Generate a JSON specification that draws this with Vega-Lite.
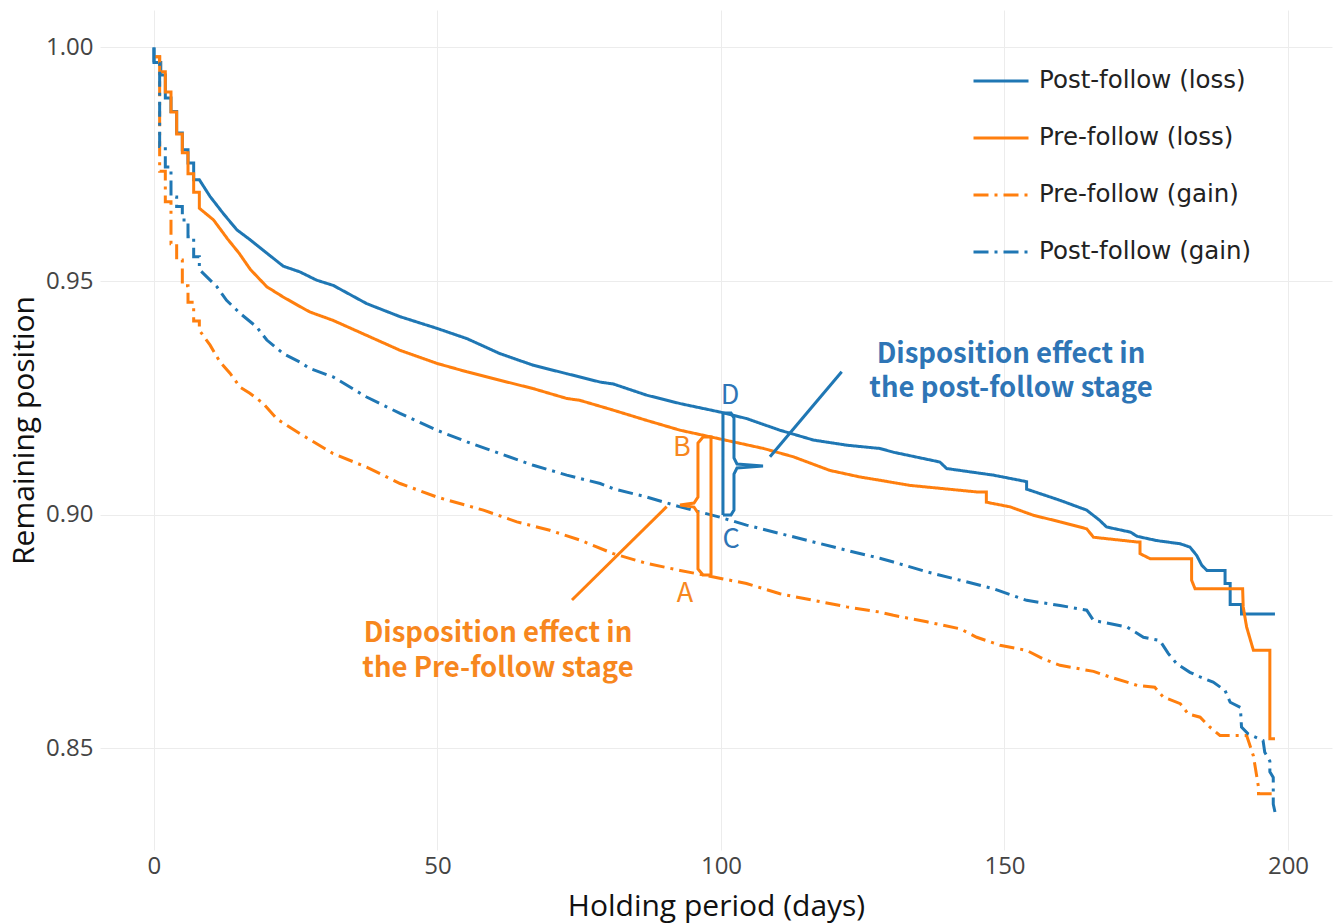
{
  "$schema": "https://vega.github.io/schema/vega-lite/v6.json",
  "width": 1232,
  "height": 840,
  "autosize": {"type": "none"},
  "padding": {"left": 100, "top": 10, "right": 3, "bottom": 74},
  "background": "white",
  "config": {
    "view": {"stroke": null},
    "axis": {
      "grid": true, "gridColor": "#ececec", "gridWidth": 1,
      "domain": false, "ticks": false,
      "labelFont": "Open Sans", "labelFontSize": 24, "labelColor": "#444444",
      "titleFont": "Open Sans", "titleFontSize": 30, "titleFontWeight": "normal", "titleColor": "#111111"
    },
    "legend": {
      "orient": "none", "legendX": 872, "legendY": 42,
      "padding": 0, "rowPadding": 16, "symbolType": "stroke", "symbolSize": 3025,
      "symbolStrokeWidth": 3, "labelFont": "DejaVu Sans", "labelFontSize": 24.5,
      "labelColor": "#222222", "labelOffset": 9, "labelLimit": 400
    }
  },
  "datasets": {
    "curves": [
      {"series":"Post-follow (loss)","day":0,"value":1.0},
      {"series":"Post-follow (loss)","day":0,"value":0.9968},
      {"series":"Post-follow (loss)","day":1.2,"value":0.9968},
      {"series":"Post-follow (loss)","day":1.2,"value":0.9941},
      {"series":"Post-follow (loss)","day":2,"value":0.9941},
      {"series":"Post-follow (loss)","day":2,"value":0.9892},
      {"series":"Post-follow (loss)","day":3,"value":0.9892},
      {"series":"Post-follow (loss)","day":3,"value":0.9863},
      {"series":"Post-follow (loss)","day":4,"value":0.9863},
      {"series":"Post-follow (loss)","day":4,"value":0.9817},
      {"series":"Post-follow (loss)","day":5,"value":0.9817},
      {"series":"Post-follow (loss)","day":5,"value":0.9781},
      {"series":"Post-follow (loss)","day":6,"value":0.9781},
      {"series":"Post-follow (loss)","day":6,"value":0.9753},
      {"series":"Post-follow (loss)","day":7,"value":0.9753},
      {"series":"Post-follow (loss)","day":7,"value":0.9717},
      {"series":"Post-follow (loss)","day":8,"value":0.9717},
      {"series":"Post-follow (loss)","day":9.9,"value":0.9681},
      {"series":"Post-follow (loss)","day":12.2,"value":0.9645},
      {"series":"Post-follow (loss)","day":14.6,"value":0.961},
      {"series":"Post-follow (loss)","day":16.9,"value":0.9589},
      {"series":"Post-follow (loss)","day":19.9,"value":0.956},
      {"series":"Post-follow (loss)","day":22.8,"value":0.9532},
      {"series":"Post-follow (loss)","day":25.7,"value":0.952},
      {"series":"Post-follow (loss)","day":28.7,"value":0.9502},
      {"series":"Post-follow (loss)","day":31.6,"value":0.9491},
      {"series":"Post-follow (loss)","day":37.5,"value":0.9452},
      {"series":"Post-follow (loss)","day":43.4,"value":0.9424},
      {"series":"Post-follow (loss)","day":49.9,"value":0.9399},
      {"series":"Post-follow (loss)","day":55.2,"value":0.9377},
      {"series":"Post-follow (loss)","day":61,"value":0.9345},
      {"series":"Post-follow (loss)","day":66.9,"value":0.932},
      {"series":"Post-follow (loss)","day":72.8,"value":0.9302},
      {"series":"Post-follow (loss)","day":78.7,"value":0.9284},
      {"series":"Post-follow (loss)","day":81,"value":0.928},
      {"series":"Post-follow (loss)","day":86.9,"value":0.9256},
      {"series":"Post-follow (loss)","day":92.8,"value":0.9238},
      {"series":"Post-follow (loss)","day":99.8,"value":0.922},
      {"series":"Post-follow (loss)","day":104.5,"value":0.9206},
      {"series":"Post-follow (loss)","day":110.4,"value":0.9181},
      {"series":"Post-follow (loss)","day":116.3,"value":0.916},
      {"series":"Post-follow (loss)","day":122.2,"value":0.9149},
      {"series":"Post-follow (loss)","day":128,"value":0.9142},
      {"series":"Post-follow (loss)","day":130.4,"value":0.9134},
      {"series":"Post-follow (loss)","day":138.6,"value":0.9113},
      {"series":"Post-follow (loss)","day":139.8,"value":0.9099},
      {"series":"Post-follow (loss)","day":148,"value":0.9085},
      {"series":"Post-follow (loss)","day":153.9,"value":0.9071},
      {"series":"Post-follow (loss)","day":153.9,"value":0.9055},
      {"series":"Post-follow (loss)","day":159.8,"value":0.9031},
      {"series":"Post-follow (loss)","day":164.5,"value":0.901},
      {"series":"Post-follow (loss)","day":166.8,"value":0.8988},
      {"series":"Post-follow (loss)","day":168,"value":0.8974},
      {"series":"Post-follow (loss)","day":172.2,"value":0.8963},
      {"series":"Post-follow (loss)","day":173.4,"value":0.8954},
      {"series":"Post-follow (loss)","day":176.8,"value":0.8945},
      {"series":"Post-follow (loss)","day":181,"value":0.8938},
      {"series":"Post-follow (loss)","day":182.7,"value":0.8931},
      {"series":"Post-follow (loss)","day":183.9,"value":0.8913},
      {"series":"Post-follow (loss)","day":184.8,"value":0.8892},
      {"series":"Post-follow (loss)","day":185.7,"value":0.8881},
      {"series":"Post-follow (loss)","day":188.9,"value":0.8881},
      {"series":"Post-follow (loss)","day":188.9,"value":0.8853},
      {"series":"Post-follow (loss)","day":189.8,"value":0.8853},
      {"series":"Post-follow (loss)","day":189.8,"value":0.8808},
      {"series":"Post-follow (loss)","day":191.8,"value":0.8808},
      {"series":"Post-follow (loss)","day":191.8,"value":0.8788},
      {"series":"Post-follow (loss)","day":197.7,"value":0.8788},

      {"series":"Pre-follow (loss)","day":0,"value":0.998},
      {"series":"Pre-follow (loss)","day":1,"value":0.998},
      {"series":"Pre-follow (loss)","day":1,"value":0.9948},
      {"series":"Pre-follow (loss)","day":2,"value":0.9948},
      {"series":"Pre-follow (loss)","day":2,"value":0.9905},
      {"series":"Pre-follow (loss)","day":3,"value":0.9905},
      {"series":"Pre-follow (loss)","day":3,"value":0.9862},
      {"series":"Pre-follow (loss)","day":4,"value":0.9862},
      {"series":"Pre-follow (loss)","day":4,"value":0.9815},
      {"series":"Pre-follow (loss)","day":5,"value":0.9815},
      {"series":"Pre-follow (loss)","day":5,"value":0.9775},
      {"series":"Pre-follow (loss)","day":6,"value":0.9775},
      {"series":"Pre-follow (loss)","day":6,"value":0.973},
      {"series":"Pre-follow (loss)","day":7,"value":0.973},
      {"series":"Pre-follow (loss)","day":7,"value":0.969},
      {"series":"Pre-follow (loss)","day":8,"value":0.969},
      {"series":"Pre-follow (loss)","day":8,"value":0.9656},
      {"series":"Pre-follow (loss)","day":10.5,"value":0.9631},
      {"series":"Pre-follow (loss)","day":13,"value":0.959},
      {"series":"Pre-follow (loss)","day":15,"value":0.956},
      {"series":"Pre-follow (loss)","day":17,"value":0.9525},
      {"series":"Pre-follow (loss)","day":19.9,"value":0.9488},
      {"series":"Pre-follow (loss)","day":22.8,"value":0.9466},
      {"series":"Pre-follow (loss)","day":25.7,"value":0.9446},
      {"series":"Pre-follow (loss)","day":27.5,"value":0.9434},
      {"series":"Pre-follow (loss)","day":31.6,"value":0.9416},
      {"series":"Pre-follow (loss)","day":37.5,"value":0.9384},
      {"series":"Pre-follow (loss)","day":43.4,"value":0.9352},
      {"series":"Pre-follow (loss)","day":49.9,"value":0.9324},
      {"series":"Pre-follow (loss)","day":55.2,"value":0.9306},
      {"series":"Pre-follow (loss)","day":61,"value":0.9288},
      {"series":"Pre-follow (loss)","day":66.9,"value":0.927},
      {"series":"Pre-follow (loss)","day":72.8,"value":0.9249},
      {"series":"Pre-follow (loss)","day":75.1,"value":0.9245},
      {"series":"Pre-follow (loss)","day":81,"value":0.9224},
      {"series":"Pre-follow (loss)","day":86.9,"value":0.9202},
      {"series":"Pre-follow (loss)","day":92.8,"value":0.9181},
      {"series":"Pre-follow (loss)","day":98.1,"value":0.9167},
      {"series":"Pre-follow (loss)","day":102.2,"value":0.9156},
      {"series":"Pre-follow (loss)","day":107.5,"value":0.9142},
      {"series":"Pre-follow (loss)","day":112.8,"value":0.9124},
      {"series":"Pre-follow (loss)","day":119.2,"value":0.9095},
      {"series":"Pre-follow (loss)","day":124.5,"value":0.9081},
      {"series":"Pre-follow (loss)","day":128,"value":0.9074},
      {"series":"Pre-follow (loss)","day":133.3,"value":0.9063},
      {"series":"Pre-follow (loss)","day":145.1,"value":0.9049},
      {"series":"Pre-follow (loss)","day":146.8,"value":0.9049},
      {"series":"Pre-follow (loss)","day":146.8,"value":0.9027},
      {"series":"Pre-follow (loss)","day":151,"value":0.9017},
      {"series":"Pre-follow (loss)","day":155.1,"value":0.8999},
      {"series":"Pre-follow (loss)","day":159.8,"value":0.8985},
      {"series":"Pre-follow (loss)","day":164.5,"value":0.897},
      {"series":"Pre-follow (loss)","day":165.7,"value":0.8952},
      {"series":"Pre-follow (loss)","day":173.3,"value":0.8942},
      {"series":"Pre-follow (loss)","day":173.9,"value":0.8942},
      {"series":"Pre-follow (loss)","day":173.9,"value":0.8917},
      {"series":"Pre-follow (loss)","day":175.7,"value":0.8906},
      {"series":"Pre-follow (loss)","day":183,"value":0.8906},
      {"series":"Pre-follow (loss)","day":183,"value":0.886},
      {"series":"Pre-follow (loss)","day":183.6,"value":0.8842},
      {"series":"Pre-follow (loss)","day":192,"value":0.8842},
      {"series":"Pre-follow (loss)","day":192.1,"value":0.8803},
      {"series":"Pre-follow (loss)","day":192.7,"value":0.876},
      {"series":"Pre-follow (loss)","day":193.9,"value":0.871},
      {"series":"Pre-follow (loss)","day":196.8,"value":0.871},
      {"series":"Pre-follow (loss)","day":196.8,"value":0.8521},
      {"series":"Pre-follow (loss)","day":197.7,"value":0.8521},

      {"series":"Pre-follow (gain)","day":0,"value":0.998},
      {"series":"Pre-follow (gain)","day":1,"value":0.998},
      {"series":"Pre-follow (gain)","day":1,"value":0.9735},
      {"series":"Pre-follow (gain)","day":2,"value":0.9735},
      {"series":"Pre-follow (gain)","day":2,"value":0.967},
      {"series":"Pre-follow (gain)","day":3,"value":0.967},
      {"series":"Pre-follow (gain)","day":3,"value":0.958},
      {"series":"Pre-follow (gain)","day":4,"value":0.958},
      {"series":"Pre-follow (gain)","day":4,"value":0.9545},
      {"series":"Pre-follow (gain)","day":5,"value":0.9545},
      {"series":"Pre-follow (gain)","day":5,"value":0.949},
      {"series":"Pre-follow (gain)","day":6,"value":0.949},
      {"series":"Pre-follow (gain)","day":6,"value":0.9455},
      {"series":"Pre-follow (gain)","day":7,"value":0.9455},
      {"series":"Pre-follow (gain)","day":7,"value":0.9415},
      {"series":"Pre-follow (gain)","day":8,"value":0.9415},
      {"series":"Pre-follow (gain)","day":8,"value":0.9395},
      {"series":"Pre-follow (gain)","day":9.9,"value":0.9363},
      {"series":"Pre-follow (gain)","day":11.6,"value":0.9328},
      {"series":"Pre-follow (gain)","day":13.4,"value":0.9303},
      {"series":"Pre-follow (gain)","day":15.2,"value":0.9273},
      {"series":"Pre-follow (gain)","day":16.9,"value":0.926},
      {"series":"Pre-follow (gain)","day":19.2,"value":0.9239},
      {"series":"Pre-follow (gain)","day":21.7,"value":0.9205},
      {"series":"Pre-follow (gain)","day":25.7,"value":0.9174},
      {"series":"Pre-follow (gain)","day":31.6,"value":0.9131},
      {"series":"Pre-follow (gain)","day":37.5,"value":0.9102},
      {"series":"Pre-follow (gain)","day":43.4,"value":0.9067},
      {"series":"Pre-follow (gain)","day":49.9,"value":0.9038},
      {"series":"Pre-follow (gain)","day":58.1,"value":0.901},
      {"series":"Pre-follow (gain)","day":64,"value":0.8985},
      {"series":"Pre-follow (gain)","day":69.8,"value":0.8967},
      {"series":"Pre-follow (gain)","day":75.1,"value":0.8946},
      {"series":"Pre-follow (gain)","day":81,"value":0.8917},
      {"series":"Pre-follow (gain)","day":86.9,"value":0.8896},
      {"series":"Pre-follow (gain)","day":92.8,"value":0.8881},
      {"series":"Pre-follow (gain)","day":98.7,"value":0.8867},
      {"series":"Pre-follow (gain)","day":104.5,"value":0.8853},
      {"series":"Pre-follow (gain)","day":110.4,"value":0.8831},
      {"series":"Pre-follow (gain)","day":116.3,"value":0.8817},
      {"series":"Pre-follow (gain)","day":122.2,"value":0.8803},
      {"series":"Pre-follow (gain)","day":128,"value":0.8792},
      {"series":"Pre-follow (gain)","day":130.4,"value":0.8785},
      {"series":"Pre-follow (gain)","day":136.3,"value":0.8771},
      {"series":"Pre-follow (gain)","day":142.2,"value":0.8756},
      {"series":"Pre-follow (gain)","day":145.1,"value":0.8738},
      {"series":"Pre-follow (gain)","day":149.2,"value":0.8721},
      {"series":"Pre-follow (gain)","day":153.9,"value":0.871},
      {"series":"Pre-follow (gain)","day":156.8,"value":0.8692},
      {"series":"Pre-follow (gain)","day":159.8,"value":0.8678},
      {"series":"Pre-follow (gain)","day":165.7,"value":0.8665},
      {"series":"Pre-follow (gain)","day":168.6,"value":0.8653},
      {"series":"Pre-follow (gain)","day":171.6,"value":0.8642},
      {"series":"Pre-follow (gain)","day":173.4,"value":0.8635},
      {"series":"Pre-follow (gain)","day":176.5,"value":0.8631},
      {"series":"Pre-follow (gain)","day":178,"value":0.861},
      {"series":"Pre-follow (gain)","day":181,"value":0.8596},
      {"series":"Pre-follow (gain)","day":182.4,"value":0.8574},
      {"series":"Pre-follow (gain)","day":184.5,"value":0.8567},
      {"series":"Pre-follow (gain)","day":186.2,"value":0.8546},
      {"series":"Pre-follow (gain)","day":188,"value":0.8528},
      {"series":"Pre-follow (gain)","day":192.7,"value":0.8528},
      {"series":"Pre-follow (gain)","day":193,"value":0.8517},
      {"series":"Pre-follow (gain)","day":193.9,"value":0.8484},
      {"series":"Pre-follow (gain)","day":194.8,"value":0.8417},
      {"series":"Pre-follow (gain)","day":194.8,"value":0.8403},
      {"series":"Pre-follow (gain)","day":197.7,"value":0.8403},

      {"series":"Post-follow (gain)","day":0,"value":1.0},
      {"series":"Post-follow (gain)","day":0,"value":0.9965},
      {"series":"Post-follow (gain)","day":1,"value":0.9965},
      {"series":"Post-follow (gain)","day":1,"value":0.9788},
      {"series":"Post-follow (gain)","day":2,"value":0.9788},
      {"series":"Post-follow (gain)","day":2,"value":0.9744},
      {"series":"Post-follow (gain)","day":3,"value":0.9744},
      {"series":"Post-follow (gain)","day":3,"value":0.968},
      {"series":"Post-follow (gain)","day":4,"value":0.968},
      {"series":"Post-follow (gain)","day":4,"value":0.966},
      {"series":"Post-follow (gain)","day":5,"value":0.966},
      {"series":"Post-follow (gain)","day":5,"value":0.9631},
      {"series":"Post-follow (gain)","day":6,"value":0.9631},
      {"series":"Post-follow (gain)","day":6,"value":0.9595},
      {"series":"Post-follow (gain)","day":7,"value":0.9595},
      {"series":"Post-follow (gain)","day":7,"value":0.9552},
      {"series":"Post-follow (gain)","day":8,"value":0.9552},
      {"series":"Post-follow (gain)","day":8,"value":0.9525},
      {"series":"Post-follow (gain)","day":11.1,"value":0.9488},
      {"series":"Post-follow (gain)","day":12.8,"value":0.9459},
      {"series":"Post-follow (gain)","day":15.2,"value":0.9431},
      {"series":"Post-follow (gain)","day":18.1,"value":0.9402},
      {"series":"Post-follow (gain)","day":19.9,"value":0.9374},
      {"series":"Post-follow (gain)","day":22.8,"value":0.9345},
      {"series":"Post-follow (gain)","day":25.7,"value":0.9327},
      {"series":"Post-follow (gain)","day":27.5,"value":0.9313},
      {"series":"Post-follow (gain)","day":31.6,"value":0.9295},
      {"series":"Post-follow (gain)","day":37.5,"value":0.9252},
      {"series":"Post-follow (gain)","day":43.4,"value":0.9217},
      {"series":"Post-follow (gain)","day":49.9,"value":0.9181},
      {"series":"Post-follow (gain)","day":55.2,"value":0.9156},
      {"series":"Post-follow (gain)","day":61,"value":0.9131},
      {"series":"Post-follow (gain)","day":66.9,"value":0.9106},
      {"series":"Post-follow (gain)","day":72.8,"value":0.9085},
      {"series":"Post-follow (gain)","day":78.7,"value":0.9067},
      {"series":"Post-follow (gain)","day":81,"value":0.9056},
      {"series":"Post-follow (gain)","day":86.9,"value":0.9038},
      {"series":"Post-follow (gain)","day":92.8,"value":0.9017},
      {"series":"Post-follow (gain)","day":99.8,"value":0.8995},
      {"series":"Post-follow (gain)","day":104.5,"value":0.8978},
      {"series":"Post-follow (gain)","day":110.4,"value":0.896},
      {"series":"Post-follow (gain)","day":116.3,"value":0.8942},
      {"series":"Post-follow (gain)","day":122.2,"value":0.8924},
      {"series":"Post-follow (gain)","day":128,"value":0.8907},
      {"series":"Post-follow (gain)","day":130.4,"value":0.8899},
      {"series":"Post-follow (gain)","day":136.3,"value":0.8878},
      {"series":"Post-follow (gain)","day":142.2,"value":0.886},
      {"series":"Post-follow (gain)","day":148,"value":0.8842},
      {"series":"Post-follow (gain)","day":153.9,"value":0.8817},
      {"series":"Post-follow (gain)","day":159.8,"value":0.8806},
      {"series":"Post-follow (gain)","day":164.5,"value":0.8796},
      {"series":"Post-follow (gain)","day":165.7,"value":0.8774},
      {"series":"Post-follow (gain)","day":171.6,"value":0.876},
      {"series":"Post-follow (gain)","day":174.5,"value":0.8738},
      {"series":"Post-follow (gain)","day":177.4,"value":0.8731},
      {"series":"Post-follow (gain)","day":178.9,"value":0.8703},
      {"series":"Post-follow (gain)","day":180.4,"value":0.8681},
      {"series":"Post-follow (gain)","day":182.7,"value":0.8663},
      {"series":"Post-follow (gain)","day":184.5,"value":0.8653},
      {"series":"Post-follow (gain)","day":186.8,"value":0.8642},
      {"series":"Post-follow (gain)","day":188.9,"value":0.8624},
      {"series":"Post-follow (gain)","day":189.8,"value":0.8599},
      {"series":"Post-follow (gain)","day":191.6,"value":0.8588},
      {"series":"Post-follow (gain)","day":191.8,"value":0.8546},
      {"series":"Post-follow (gain)","day":193,"value":0.8531},
      {"series":"Post-follow (gain)","day":195.6,"value":0.8517},
      {"series":"Post-follow (gain)","day":195.9,"value":0.8492},
      {"series":"Post-follow (gain)","day":196.8,"value":0.8473},
      {"series":"Post-follow (gain)","day":196.8,"value":0.845},
      {"series":"Post-follow (gain)","day":197.4,"value":0.8438},
      {"series":"Post-follow (gain)","day":197.4,"value":0.8381},
      {"series":"Post-follow (gain)","day":197.7,"value":0.8364}
    ],
    "blueBracket": [
      {"o":1,"day":100.35,"value":0.89996},
      {"o":2,"day":100.35,"value":0.92179},
      {"o":3,"day":101.76,"value":0.92179},
      {"o":4,"day":102.29,"value":0.92072},
      {"o":5,"day":102.29,"value":0.91216},
      {"o":6,"day":102.82,"value":0.91088},
      {"o":7,"day":107.41,"value":0.91045},
      {"o":8,"day":102.82,"value":0.91002},
      {"o":9,"day":102.29,"value":0.90873},
      {"o":10,"day":102.29,"value":0.90103},
      {"o":11,"day":101.76,"value":0.89996},
      {"o":12,"day":100.35,"value":0.89996}
    ],
    "orangeBracket": [
      {"o":1,"day":98.24,"value":0.88712},
      {"o":2,"day":98.24,"value":0.91665},
      {"o":3,"day":96.83,"value":0.91665},
      {"o":4,"day":95.94,"value":0.91537},
      {"o":5,"day":95.94,"value":0.90382},
      {"o":6,"day":95.24,"value":0.90253},
      {"o":7,"day":92.77,"value":0.9021},
      {"o":8,"day":95.24,"value":0.90167},
      {"o":9,"day":95.94,"value":0.90039},
      {"o":10,"day":95.94,"value":0.88841},
      {"o":11,"day":96.83,"value":0.88712},
      {"o":12,"day":98.24,"value":0.88712}
    ]
  },
  "layer": [
    {
      "mark": {"type": "rule", "color": "#444444", "strokeWidth": 1.5},
      "encoding": {"x": {"datum": 0, "type": "quantitative"}}
    },
    {
      "data": {"name": "curves"},
      "mark": {"type": "line", "strokeWidth": 3, "strokeCap": "butt", "strokeJoin": "miter", "clip": true},
      "encoding": {
        "x": {"field": "day", "type": "quantitative",
              "scale": {"domain": [-9.52, 207.76], "nice": false, "zero": false},
              "axis": {"values": [0, 50, 100, 150, 200], "title": "Holding period (days)", "labelPadding": 4, "titlePadding": 13}},
        "y": {"field": "value", "type": "quantitative",
              "scale": {"domain": [0.82828, 1.00802], "nice": false, "zero": false},
              "axis": {"values": [0.85, 0.9, 0.95, 1.0], "format": ".2f", "title": "Remaining position", "labelPadding": 7, "titlePadding": 6}},
        "color": {"field": "series", "type": "nominal",
                  "scale": {"domain": ["Post-follow (loss)", "Pre-follow (loss)", "Pre-follow (gain)", "Post-follow (gain)"],
                            "range": ["#1f77b4", "#ff7f0e", "#ff7f0e", "#1f77b4"]},
                  "legend": {"title": null}},
        "strokeDash": {"field": "series", "type": "nominal",
                  "scale": {"domain": ["Post-follow (loss)", "Pre-follow (loss)", "Pre-follow (gain)", "Post-follow (gain)"],
                            "range": [[1, 0], [1, 0], [15, 6, 3, 6], [15, 6, 3, 6]]},
                  "legend": {"title": null}}
      }
    },
    {
      "data": {"name": "blueBracket"},
      "mark": {"type": "line", "color": "#1f77b4", "strokeWidth": 3},
      "encoding": {
        "x": {"field": "day", "type": "quantitative"},
        "y": {"field": "value", "type": "quantitative"},
        "order": {"field": "o", "type": "quantitative"}
      }
    },
    {
      "data": {"name": "orangeBracket"},
      "mark": {"type": "line", "color": "#ff7f0e", "strokeWidth": 3},
      "encoding": {
        "x": {"field": "day", "type": "quantitative"},
        "y": {"field": "value", "type": "quantitative"},
        "order": {"field": "o", "type": "quantitative"}
      }
    },
    {
      "data": {"values": [{"day": 121.29, "value": 0.93063, "day2": 108.64, "value2": 0.91244}]},
      "mark": {"type": "rule", "color": "#1f77b4", "strokeWidth": 3},
      "encoding": {
        "x": {"field": "day", "type": "quantitative"},
        "y": {"field": "value", "type": "quantitative"},
        "x2": {"field": "day2"},
        "y2": {"field": "value2"}
      }
    },
    {
      "data": {"values": [{"day": 90.42, "value": 0.90174, "day2": 73.72, "value2": 0.88177}]},
      "mark": {"type": "rule", "color": "#ff7f0e", "strokeWidth": 3},
      "encoding": {
        "x": {"field": "day", "type": "quantitative"},
        "y": {"field": "value", "type": "quantitative"},
        "x2": {"field": "day2"},
        "y2": {"field": "value2"}
      }
    },
    {
      "data": {"values": [
        {"t": "D", "day": 101.6, "value": 0.92543},
        {"t": "C", "day": 101.8, "value": 0.89461}
      ]},
      "mark": {"type": "text", "color": "#2e75b6", "font": "Noto Sans CJK SC", "fontSize": 27, "align": "center", "baseline": "middle"},
      "encoding": {
        "x": {"field": "day", "type": "quantitative"},
        "y": {"field": "value", "type": "quantitative"},
        "text": {"field": "t"}
      }
    },
    {
      "data": {"values": [
        {"t": "B", "day": 93.1, "value": 0.9143},
        {"t": "A", "day": 93.65, "value": 0.88306}
      ]},
      "mark": {"type": "text", "color": "#f7871e", "font": "Noto Sans CJK SC", "fontSize": 27, "align": "center", "baseline": "middle"},
      "encoding": {
        "x": {"field": "day", "type": "quantitative"},
        "y": {"field": "value", "type": "quantitative"},
        "text": {"field": "t"}
      }
    },
    {
      "data": {"values": [
        {"t": ["Disposition effect in", "the post-follow stage"], "day": 151.15, "value": 0.9342}
      ]},
      "mark": {"type": "text", "color": "#2e75b6", "font": "Noto Sans CJK SC", "fontWeight": "bold", "fontSize": 27.5, "lineHeight": 34, "align": "center", "baseline": "middle"},
      "encoding": {
        "x": {"field": "day", "type": "quantitative"},
        "y": {"field": "value", "type": "quantitative"},
        "text": {"field": "t"}
      }
    },
    {
      "data": {"values": [
        {"t": ["Disposition effect in", "the Pre-follow stage"], "day": 60.67, "value": 0.8745}
      ]},
      "mark": {"type": "text", "color": "#f7871e", "font": "Noto Sans CJK SC", "fontWeight": "bold", "fontSize": 27.5, "lineHeight": 35, "align": "center", "baseline": "middle"},
      "encoding": {
        "x": {"field": "day", "type": "quantitative"},
        "y": {"field": "value", "type": "quantitative"},
        "text": {"field": "t"}
      }
    }
  ]
}
